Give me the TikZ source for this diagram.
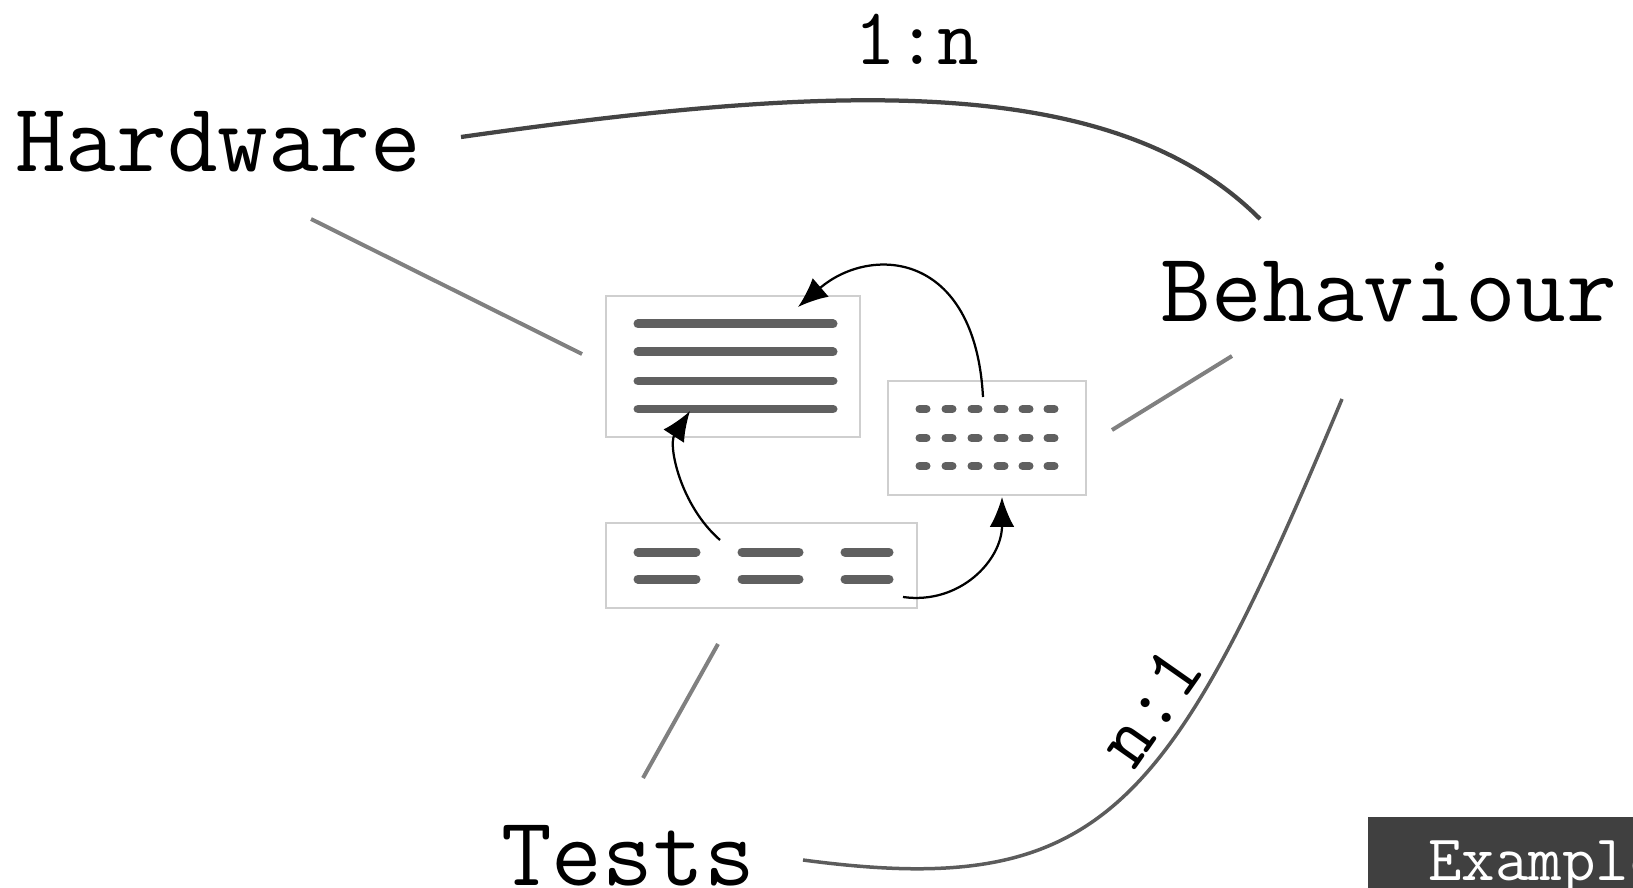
\documentclass[tikz,border=0pt]{standalone}
\usepackage{fontspec}
\usetikzlibrary{arrows.meta}

\definecolor{inkdark}{HTML}{444444}
\definecolor{inkmid}{HTML}{5C5C5C}
\definecolor{spokegray}{HTML}{808080}
\definecolor{boxedge}{HTML}{CFCFCF}
\definecolor{barfill}{HTML}{606060}
\definecolor{tagfill}{HTML}{404040}

\begin{document}
\begin{tikzpicture}
    [
        x=0.02cm, y=-0.02cm,
        term/.style = {font=\ttfamily\fontsize{56}{60}\selectfont, inner sep=0, anchor=base},
        ratio/.style = {font=\ttfamily\fontsize{46}{50}\selectfont, inner sep=0},
        panel/.style = {draw=boxedge, line width=0.04cm, inner sep=0},
        bar/.style = {barfill, line width=0.18cm, line cap=round},
        spoke/.style = {spokegray, line width=0.08cm},
        rel/.style = {inkdark, line width=0.085cm},
        flow/.style = {line width=0.045cm, -{Latex[length=17pt,width=14pt]}},
        tag/.style = {fill=tagfill, text=white, font=\ttfamily\fontsize{37}{40}\selectfont,
                      inner xsep=1.2cm, inner ysep=0.36cm, text height=0.9cm, text depth=0.5cm,
                      anchor=north west}
    ]
    \useasboundingbox (0,0) rectangle (1633,888);
    \clip (0,0) rectangle (1633,888);

    % the three things that are tied together
    \node[term] (hw) at (218,172) {Hardware};
    \node[term] (beh) at (1389,322) {Behaviour};
    \node[term] (tst) at (628,885) {Tests};

    % icon in the middle
    \node[panel, minimum width=5.08cm, minimum height=2.82cm] (doc) at (733,366.5) {};
    \node[panel, minimum width=3.96cm, minimum height=2.28cm] (grid) at (987,438) {};
    \node[panel, minimum width=6.22cm, minimum height=1.70cm] (rows) at (761.5,565.5) {};
    \foreach \y in {324,352,381,409}
        \draw[bar] (638,\y) -- (833,\y);
    \foreach \x in {923,949,975,1001,1026,1051}
        \foreach \y in {409,438,466}
            \draw[bar, line width=0.16cm] (\x-3.5,\y) -- (\x+3.5,\y);
    \foreach \a/\b in {638/696,742/799,845/889}
        \foreach \y in {552,579}
            \draw[bar] (\a,\y) -- (\b,\y);

    \coordinate (grid-up) at (983,397);
    \coordinate (doc-top) at (798,307);
    \coordinate (rows-up) at (720,540);
    \coordinate (doc-bot) at (690,411);
    \coordinate (rows-out) at (903,597);
    \coordinate (grid-bot) at (1002,497);
    \draw[flow] (grid-up) .. controls +(-8,-147) and +(72,-62) .. (doc-top);
    \draw[flow] (rows-up) .. controls +(-40,-35) and +(-22,34) .. (doc-bot);
    \draw[flow] (rows-out) .. controls +(57,8) and +(0,63) .. (grid-bot);

    % spokes towards the icon
    \coordinate (hw-s) at (311,219);
    \coordinate (doc-w) at (582,354);
    \coordinate (beh-w) at (1232,356);
    \coordinate (grid-e) at (1112,430);
    \coordinate (tst-n) at (643,778);
    \coordinate (rows-s) at (718,644);
    \draw[spoke] (hw-s) -- (doc-w);
    \draw[spoke] (beh-w) -- (grid-e);
    \draw[spoke] (tst-n) -- (rows-s);

    % relations with their cardinality
    \coordinate (hw-e) at (461,137);
    \coordinate (beh-n) at (1260,219);
    \coordinate (beh-s) at (1342,399);
    \coordinate (tst-e) at (803,860);
    \draw[rel] (hw-e) .. controls (820,86) and (1110,68) .. (beh-n);
    \draw[rel, inkmid, line width=0.07cm] (beh-s) .. controls (1169,813) and (1103,900) .. (tst-e);
    \node[ratio, anchor=base] (onen) at (917,65) {1:n};
    \node[ratio, rotate=55] (none) at (1150,706) {n:1};

    \node[tag] (ex) at (1368,817) {Example};
\end{tikzpicture}
\end{document}
